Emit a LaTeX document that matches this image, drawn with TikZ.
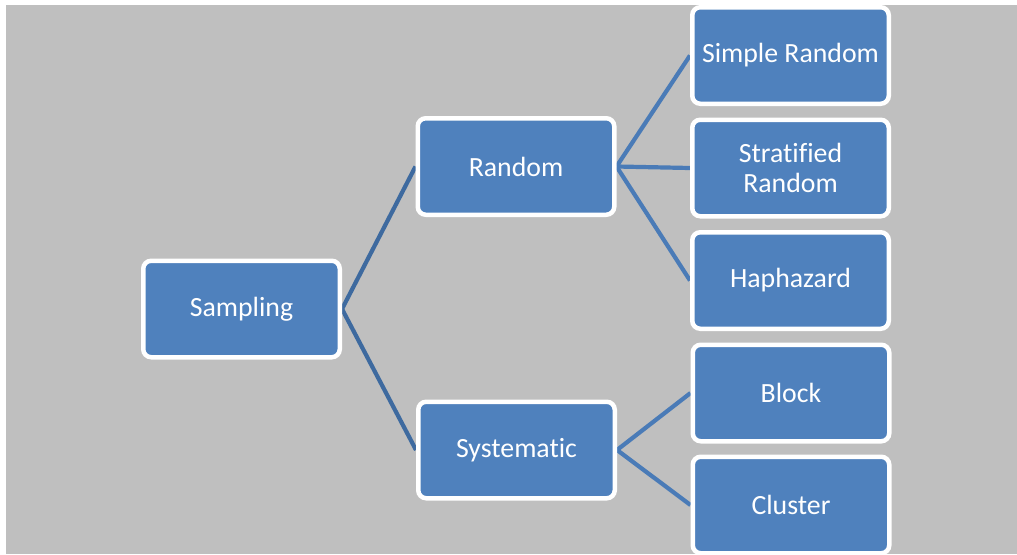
\documentclass[tikz,border=0pt]{standalone}
\usepackage{fontspec}
\setmainfont{Carlito}[RawFeature=-liga]
\definecolor{canvas}{RGB}{191,191,191}
\definecolor{boxfill}{RGB}{79,129,189}
\definecolor{linkdark}{RGB}{62,106,159}
\definecolor{linklight}{RGB}{74,123,183}
\pgfdeclarelayer{back}
\pgfdeclarelayer{links}
\pgfsetlayers{back,links,main}
\tikzset{
  leaf/.style={draw=white, line width=4.5pt, fill=boxfill, rounded corners=8pt,
    minimum width=196.5pt, minimum height=96.5pt, inner sep=0pt,
    text=white, align=center, font=\fontsize{27.8}{30.6}\selectfont},
  linkone/.style={draw=linkdark, line width=4.2pt},
  linktwo/.style={draw=linklight, line width=4.2pt}
}
\begin{document}
\begin{tikzpicture}[x=1pt,y=-1pt]
\clip (0,0) rectangle (1017,554);
\begin{pgfonlayer}{back}
  \fill[white] (0,0) rectangle (1017,554);
  \fill[canvas] (6,5) rectangle (1017,554);
\end{pgfonlayer}

% tree nodes
\node[leaf] (sampling) at (241.5,309) {Sampling};
\node[leaf] (random) at (516,166.5) {Random};
\node[leaf] (systematic) at (516.5,450) {Systematic};
\node[leaf] (simple) at (790.5,55.5) {Simple Random};
\node[leaf] (stratified) at (790.5,168) {Stratified\\Random};
\node[leaf] (haphazard) at (790.5,280.5) {Haphazard};
\node[leaf] (block) at (791,393) {Block};
\node[leaf] (cluster) at (791,505) {Cluster};

% connectors, kept behind the boxes
\begin{pgfonlayer}{links}
  \draw[linkone] (sampling.east) -- (random.west);
  \draw[linkone] (sampling.east) -- (systematic.west);
  \draw[linktwo] (random.east) -- (simple.west);
  \draw[linktwo] (random.east) -- (stratified.west);
  \draw[linktwo] (random.east) -- (haphazard.west);
  \draw[linktwo] (systematic.east) -- (block.west);
  \draw[linktwo] (systematic.east) -- (cluster.west);
\end{pgfonlayer}
\end{tikzpicture}
\end{document}
